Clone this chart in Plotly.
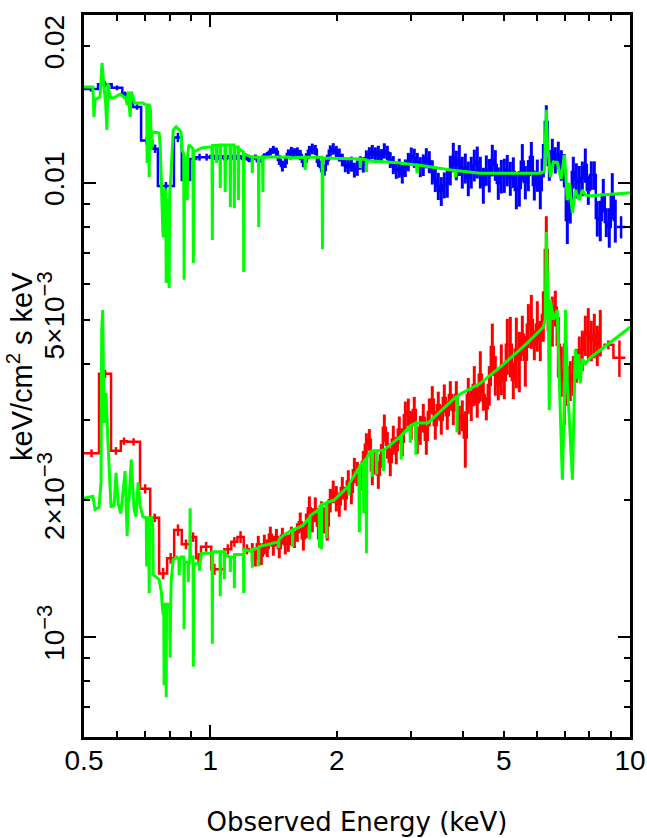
#!/usr/bin/env python
# -*- coding: utf-8 -*-

from plotly.graph_objects import Figure
from plotly.graph_objects import Scatter

# flux values are in units of 1e-3 keV/cm^2 s keV
MILLI = 1e-3

# wide low energy bins
blue_low_edges = [0.5, 0.540, 0.582, 0.617, 0.635, 0.654, 0.684, 0.727, 0.750, 0.819, 0.855, 0.895, 0.925, 0.960, 1.0]
blue_low_flux = [16.1, 16.5, 16.2, 15.7, 15.4, 14.7, 12.4, 11.9, 9.85, 12.6, 10.15, 11.3, 11.4, 11.4]
blue_low_err = [0.2, 0.25, 0.2, 0.2, 0.2, 0.2, 0.25, 0.25, 0.2, 0.3, 0.25, 0.2, 0.2, 0.2]

red_low_edges = [0.5, 0.543, 0.580, 0.612, 0.6335, 0.680, 0.719, 0.755, 0.789, 0.820, 0.855,
                 0.895, 0.925, 0.950, 1.005, 1.040, 1.080, 1.122, 1.160, 1.201, 1.245]
red_low_flux = [2.54, 3.80, 2.57, 2.70, 2.69, 2.12, 1.83, 1.38, 1.49, 1.72,
                1.60, 1.66, 1.49, 1.58, 1.41, 1.41, 1.56, 1.62, 1.66, 1.56]
red_low_err = [0.05, 0.08, 0.05, 0.05, 0.05, 0.05, 0.04, 0.04, 0.04, 0.05,
               0.04, 0.04, 0.04, 0.04, 0.04, 0.04, 0.04, 0.04, 0.05, 0.04]

blue_end_edges = [9.30, 9.75]
blue_end_flux = [8.00]
blue_end_err = [0.45]
red_end_edges = [8.637, 9.13, 9.75]
red_end_flux = [4.40, 4.12]
red_end_err = [0.1, 0.38]

# narrow bins above 1 keV
hi_energy = [
    1.000, 1.017, 1.033, 1.050, 1.068, 1.086, 1.104, 1.122, 1.141, 1.160,
    1.179, 1.199, 1.218, 1.239, 1.259, 1.280, 1.301, 1.323, 1.345, 1.367,
    1.390, 1.413, 1.437, 1.460, 1.485, 1.509, 1.534, 1.560, 1.586, 1.612,
    1.638, 1.666, 1.693, 1.722, 1.750, 1.779, 1.809, 1.839, 1.869, 1.900,
    1.931, 1.963, 1.996, 2.029, 2.063, 2.097, 2.132, 2.168, 2.204, 2.240,
    2.277, 2.315, 2.354, 2.393, 2.432, 2.473, 2.514, 2.556, 2.598, 2.641,
    2.684, 2.729, 2.774, 2.820, 2.867, 2.915, 2.963, 3.012, 3.062, 3.113,
    3.165, 3.217, 3.271, 3.325, 3.380, 3.436, 3.493, 3.551, 3.610, 3.670,
    3.731, 3.793, 3.856, 3.920, 3.985, 4.051, 4.118, 4.186, 4.256, 4.326,
    4.399, 4.472, 4.546, 4.621, 4.698, 4.776, 4.855, 4.936, 5.018, 5.101,
    5.186, 5.272, 5.360, 5.449, 5.539, 5.631, 5.725, 5.820, 5.916, 6.014,
    6.113, 6.215, 6.318, 6.423, 6.530, 6.638, 6.748, 6.860, 6.974, 7.090,
    7.207, 7.327, 7.449, 7.572, 7.698, 7.826, 7.956, 8.088, 8.222, 8.358,
    8.496, 8.637, 8.780, 8.926, 9.074, 9.225,
]

blue_flux = [
    11.41, 11.35, 11.47, 11.35, 11.41, 11.29, 11.41, 11.35, 11.47, 11.35,
    11.41, 11.29, 11.35, 11.24, 11.29, 11.41, 11.18, 11.24, 11.47, 11.53,
    11.71, 11.83, 11.71, 11.24, 10.90, 11.07, 11.59, 11.71, 11.65, 11.71,
    11.53, 11.13, 11.35, 11.77, 11.89, 11.83, 11.13, 10.85, 10.68, 11.24,
    11.77, 11.89, 11.71, 11.53, 11.24, 10.96, 10.85, 11.01, 10.68, 10.79,
    11.07, 10.96, 11.35, 11.59, 11.71, 11.53, 11.65, 11.47, 11.77, 11.65,
    11.24, 10.96, 10.68, 10.79, 10.47, 10.79, 11.13, 11.47, 11.35, 11.13,
    10.85, 10.96, 11.35, 11.13, 10.57, 10.15, 9.85, 9.60, 9.90, 10.00,
    10.68, 11.41, 10.96, 11.24, 10.57, 10.79, 10.25, 10.57, 10.96, 11.13,
    10.57, 9.90, 10.68, 10.41, 11.24, 10.96, 10.00, 10.36, 10.41, 10.68,
    10.25, 10.57, 9.65, 9.75, 11.13, 10.05, 10.41, 11.41, 9.90, 10.41,
    9.65, 11.24, 13.63, 10.96, 11.71, 11.24, 11.53, 10.96, 10.68, 8.29,
    8.94, 10.57, 10.15, 10.05, 10.25, 10.96, 9.65, 10.41, 10.41, 8.37,
    8.29, 9.41, 8.20, 8.00, 9.41, 8.29,
]

blue_err = [
    0.12, 0.11, 0.12, 0.12, 0.12, 0.12, 0.12, 0.11, 0.12, 0.12,
    0.12, 0.13, 0.12, 0.13, 0.12, 0.14, 0.13, 0.15, 0.16, 0.18,
    0.22, 0.24, 0.25, 0.28, 0.30, 0.28, 0.27, 0.30, 0.28, 0.27,
    0.30, 0.30, 0.28, 0.30, 0.32, 0.30, 0.28, 0.30, 0.30, 0.30,
    0.33, 0.35, 0.36, 0.38, 0.36, 0.40, 0.38, 0.42, 0.40, 0.42,
    0.38, 0.42, 0.45, 0.40, 0.42, 0.45, 0.43, 0.40, 0.46, 0.43,
    0.45, 0.50, 0.47, 0.52, 0.50, 0.48, 0.52, 0.50, 0.55, 0.52,
    0.55, 0.60, 0.58, 0.62, 0.65, 0.60, 0.68, 0.70, 0.65, 0.72,
    0.80, 0.85, 0.82, 0.88, 0.85, 0.82, 0.90, 0.85, 0.88, 0.90,
    0.85, 0.90, 0.82, 0.88, 0.90, 0.85, 0.82, 0.88, 0.90, 0.85,
    0.88, 0.82, 0.90, 0.88, 1.05, 0.85, 0.82, 0.90, 0.75, 0.85,
    0.90, 0.95, 1.20, 0.85, 0.80, 0.75, 0.80, 0.85, 0.90, 0.95,
    0.80, 0.85, 0.90, 0.85, 0.90, 0.95, 0.70, 0.75, 0.75, 0.75,
    0.85, 0.80, 0.60, 0.80, 1.10, 0.90,
]

red_flux = [
    1.54, 1.49, 1.60, 1.51, 1.60, 1.57, 1.68, 1.59, 1.66, 1.57,
    1.67, 1.60, 1.61, 1.67, 1.64, 1.70, 1.79, 1.65, 1.76, 1.92,
    1.81, 1.91, 1.76, 1.88, 1.81, 1.76, 2.00, 2.09, 2.02, 1.96,
    2.13, 2.02, 2.20, 2.09, 2.33, 2.29, 2.25, 2.43, 2.65, 2.72,
    2.33, 2.43, 2.28, 2.51, 2.89, 2.65, 2.43, 2.72, 2.58, 2.86,
    2.69, 3.08, 3.13, 2.93, 3.16, 2.72, 2.86, 3.04, 2.72, 3.13,
    3.33, 2.93, 3.24, 3.01, 3.36, 3.08, 3.41, 3.16, 3.41, 3.01,
    3.08, 2.75, 3.41, 3.24, 3.59, 3.29, 3.78, 3.41, 3.19, 3.59,
    4.35, 3.78, 3.59, 3.91, 3.68, 4.40, 4.40, 3.68, 4.29, 4.08,
    4.63, 4.08, 4.87, 4.99, 4.40, 4.87, 4.51, 5.12, 7.12, 4.75,
    4.99, 5.31, 4.40, 3.87, 3.68, 3.59, 3.68, 3.78, 3.97, 4.23,
    4.29, 4.63, 4.70, 4.51, 4.63, 4.40, 4.70,
]

red_err = [
    0.07, 0.06, 0.07, 0.07, 0.08, 0.07, 0.07, 0.08, 0.07, 0.08,
    0.07, 0.08, 0.07, 0.08, 0.07, 0.08, 0.09, 0.10, 0.11, 0.12,
    0.11, 0.12, 0.12, 0.11, 0.12, 0.13, 0.12, 0.12, 0.13, 0.12,
    0.12, 0.12, 0.13, 0.13, 0.15, 0.14, 0.15, 0.14, 0.16, 0.15,
    0.17, 0.15, 0.16, 0.15, 0.20, 0.18, 0.17, 0.20, 0.18, 0.20,
    0.19, 0.22, 0.22, 0.21, 0.22, 0.19, 0.21, 0.22, 0.20, 0.22,
    0.24, 0.21, 0.23, 0.22, 0.24, 0.22, 0.25, 0.23, 0.25, 0.22,
    0.24, 0.39, 0.31, 0.25, 0.36, 0.25, 0.48, 0.26, 0.19, 0.36,
    0.55, 0.38, 0.27, 0.50, 0.34, 0.62, 0.67, 0.34, 0.76, 0.62,
    0.47, 0.52, 0.54, 0.68, 0.33, 0.62, 0.46, 0.65, 1.33, 0.72,
    0.63, 0.48, 0.67, 0.49, 0.75, 0.36, 0.37, 0.38, 0.34, 0.36,
    0.44, 0.47, 0.60, 0.46, 0.52, 0.45, 0.55,
]

# model curves, each drawn over its data set
top_model_energy = [
    0.500, 0.525, 0.528, 0.531, 0.546, 0.552, 0.558, 0.563, 0.567, 0.570,
    0.577, 0.590, 0.610, 0.630, 0.6335, 0.637, 0.644, 0.648, 0.660, 0.690,
    0.703, 0.7055, 0.707, 0.7085, 0.7135, 0.715, 0.7165, 0.720, 0.723, 0.727,
    0.755, 0.760, 0.770, 0.772, 0.775, 0.783, 0.785, 0.787, 0.796, 0.798,
    0.800, 0.805, 0.816, 0.829, 0.843, 0.851, 0.856, 0.864, 0.866, 0.868,
    0.879, 0.881, 0.883, 0.889, 0.909, 0.911, 0.913, 0.954, 1.000, 1.009,
    1.011, 1.013, 1.032, 1.034, 1.036, 1.054, 1.056, 1.058, 1.083, 1.085,
    1.087, 1.114, 1.116, 1.118, 1.139, 1.141, 1.143, 1.165, 1.167, 1.169,
    1.199, 1.201, 1.203, 1.257, 1.259, 1.261, 1.302, 1.304, 1.306, 1.332,
    1.334, 1.336, 1.470, 1.548, 1.551, 1.554, 1.680, 1.683, 1.686, 1.846,
    1.850, 1.854, 2.272, 2.277, 2.282, 2.350, 2.355, 2.360, 2.836, 3.100,
    3.110, 3.120, 3.825, 3.840, 3.855, 4.400, 6.113, 6.250, 6.320, 6.350,
    6.460, 6.570, 6.710, 6.850, 6.980, 7.090, 7.170, 7.290, 7.410, 7.570,
    7.700, 7.830, 8.040, 9.880, 10.00,
]
top_model_flux = [
    16.28, 16.28, 13.98, 15.24, 15.47, 18.38, 16.28, 15.00, 13.09, 16.62,
    15.40, 15.40, 15.70, 15.30, 14.86, 15.90, 13.98, 15.90, 15.00, 15.00,
    14.86, 14.86, 11.07, 14.86, 14.86, 10.31, 14.86, 14.50, 11.83, 12.96,
    12.89, 12.00, 8.00, 7.60, 9.65, 9.65, 6.02, 9.17, 9.17, 5.87,
    9.50, 10.31, 13.09, 13.29, 13.09, 12.96, 11.83, 11.60, 6.12, 11.41,
    11.00, 9.17, 11.50, 12.13, 11.90, 6.66, 11.70, 11.95, 12.00, 12.00,
    7.49, 12.10, 12.10, 11.07, 12.10, 12.13, 9.75, 12.13, 12.13, 9.55,
    12.13, 12.13, 8.85, 12.13, 12.13, 8.80, 12.00, 12.00, 9.17, 11.90,
    11.70, 6.37, 11.60, 11.40, 10.51, 11.41, 11.40, 8.00, 11.35, 11.40,
    9.55, 11.41, 11.41, 11.40, 11.24, 11.35, 11.40, 10.68, 11.40, 11.40,
    7.15, 11.35, 11.29, 10.79, 11.29, 11.25, 10.57, 11.20, 11.07, 10.95,
    10.50, 10.95, 10.65, 10.30, 10.65, 10.51, 10.51, 10.60, 14.49, 12.44,
    10.30, 11.13, 11.10, 10.20, 11.53, 9.17, 10.00, 8.58, 9.65, 9.17,
    9.65, 9.40, 9.37, 9.51, 9.52,
]

bottom_model_energy = [
    0.500, 0.525, 0.531, 0.543, 0.549, 0.551, 0.554, 0.558, 0.564, 0.570,
    0.580, 0.590, 0.596, 0.603, 0.612, 0.6265, 0.6335, 0.637, 0.640, 0.648,
    0.658, 0.665, 0.673, 0.680, 0.691, 0.7035, 0.705, 0.7065, 0.7135, 0.715,
    0.7165, 0.725, 0.729, 0.731, 0.755, 0.765, 0.767, 0.772, 0.7745, 0.776,
    0.778, 0.7835, 0.785, 0.7865, 0.793, 0.800, 0.802, 0.804, 0.807, 0.816,
    0.833, 0.841, 0.843, 0.845, 0.851, 0.8645, 0.866, 0.8675, 0.8845, 0.886,
    0.8875, 0.8935, 0.895, 0.8965, 0.9095, 0.911, 0.9125, 0.940, 0.942, 0.944,
    0.954, 1.0055, 1.0095, 1.011, 1.0125, 1.0545, 1.056, 1.0575, 1.0785, 1.080,
    1.0815, 1.1145, 1.116, 1.1175, 1.1395, 1.141, 1.1425, 1.1995, 1.201, 1.2025,
    1.2575, 1.259, 1.2605, 1.3025, 1.304, 1.3055, 1.453, 1.455, 1.457, 1.500,
    1.568, 1.570, 1.572, 1.660, 1.722, 1.725, 1.728, 1.817, 1.820, 1.823,
    1.837, 1.840, 1.843, 1.889, 1.892, 1.895, 1.970, 2.135, 2.140, 2.145,
    2.260, 2.265, 2.270, 2.315, 2.320, 2.325, 2.350, 2.355, 2.360, 2.405,
    2.425, 2.430, 2.435, 2.485, 2.490, 2.495, 2.580, 2.585, 2.590, 2.845,
    2.850, 2.855, 2.990, 2.996, 3.002, 3.085, 3.090, 3.095, 3.300, 3.731,
    3.862, 3.870, 3.878, 3.942, 4.399, 5.000, 5.690, 6.210, 6.280, 6.320,
    6.350, 6.390, 6.420, 6.460, 6.570, 6.710, 6.820, 6.900, 6.980, 7.020,
    7.090, 7.170, 7.290, 7.410, 7.490, 7.530, 7.610, 7.700, 7.830, 8.040,
    10.00,
]
bottom_model_flux = [
    2.02, 2.04, 1.91, 1.93, 2.19, 4.75, 5.25, 2.96, 3.45, 2.72,
    1.93, 1.95, 2.30, 1.97, 1.87, 2.32, 1.67, 1.97, 2.00, 2.46,
    1.91, 1.84, 2.19, 1.95, 1.84, 1.83, 1.43, 1.83, 1.83, 1.25,
    1.83, 1.83, 1.75, 1.37, 1.34, 1.25, 1.19, 1.12, 1.15, 0.783,
    1.18, 1.18, 0.737, 1.18, 1.18, 1.15, 0.90, 1.15, 1.34, 1.48,
    1.50, 1.48, 1.37, 1.48, 1.50, 1.50, 1.04, 1.46, 1.46, 1.32,
    1.46, 1.46, 1.92, 1.50, 1.50, 0.86, 1.45, 1.45, 1.40, 1.45,
    1.53, 1.53, 1.53, 0.966, 1.54, 1.54, 1.23, 1.54, 1.54, 1.34,
    1.52, 1.50, 1.39, 1.50, 1.50, 1.28, 1.52, 1.52, 1.25, 1.56,
    1.54, 1.42, 1.56, 1.57, 1.43, 1.58, 1.62, 1.57, 1.64, 1.68,
    1.72, 1.58, 1.72, 1.76, 1.83, 1.64, 1.85, 1.91, 1.57, 1.94,
    1.95, 1.56, 1.96, 1.97, 1.65, 1.98, 2.00, 2.15, 2.05, 2.18,
    2.36, 1.70, 2.38, 2.43, 1.87, 2.44, 2.47, 1.53, 2.48, 2.56,
    2.56, 2.25, 2.57, 2.57, 2.28, 2.57, 2.58, 2.32, 2.58, 2.77,
    2.46, 2.78, 2.91, 2.68, 2.92, 2.96, 2.52, 2.96, 2.96, 3.29,
    3.39, 2.82, 3.39, 3.43, 3.62, 3.99, 4.44, 4.81, 5.00, 7.80,
    6.50, 5.53, 3.16, 5.53, 5.00, 5.25, 3.16, 2.22, 3.33, 5.25,
    3.62, 3.01, 2.22, 4.29, 3.70, 4.20, 3.62, 4.10, 4.00, 4.12,
    4.81,
]

x_labels = [0.5, 1, 2, 5, 10]
x_long_ticks = [1, 10]
x_short_ticks = [0.6, 0.7, 0.8, 0.9, 3, 4, 6, 7, 8, 9]
y_labels = [0.02, 0.01, 5e-3, 2e-3, 1e-3]
SUP3 = "<sup><span style=\"font-size:22px\">−3</span></sup>"
y_label_text = ["0.02", "0.01", "5×10" + SUP3, "2×10" + SUP3, "10" + SUP3]
y_long_ticks = [0.01, 1e-3]
y_short_ticks = [7e-4, 8e-4, 9e-4, 3e-3, 4e-3, 6e-3, 7e-3, 8e-3, 9e-3]

RED = "#ff0000"
BLUE = "#0000ff"
GREEN = "#00ff00"
X_RANGE = [-0.30103, 1.0]
Y_RANGE = [-3.2203, -1.630]
FONT = "Liberation Sans"


def scaled(values):
    return [value * MILLI for value in values]


def add_steps(figure, edges, flux, err, color):
    # wide bins: a flat step across each bin and a bar at its centre
    step_x, step_y = [], []
    for lo, hi, value in zip(edges[:-1], edges[1:], scaled(flux)):
        step_x += [lo, hi]
        step_y += [value, value]
    figure.add_trace(Scatter(x=step_x, y=step_y, mode="lines", line=dict(color=color, width=2.5, simplify=False)))
    centres = [(lo * hi) ** 0.5 for lo, hi in zip(edges[:-1], edges[1:])]
    figure.add_trace(
        Scatter(
            x=centres,
            y=scaled(flux),
            mode="markers",
            marker=dict(size=1, color=color),
            error_y=dict(type="data", array=scaled(err), color=color, thickness=2.5, width=0),
        ),
    )


def add_bins(figure, energy, flux, err, color):
    figure.add_trace(
        Scatter(
            x=energy,
            y=scaled(flux),
            mode="lines",
            line=dict(color=color, width=2.5, shape="hvh", simplify=False),
            error_y=dict(type="data", array=scaled(err), color=color, thickness=3, width=0),
        ),
    )


def add_model(figure, energy, flux):
    figure.add_trace(
        Scatter(x=energy, y=scaled(flux), mode="lines", line=dict(color=GREEN, width=3, simplify=False)),
    )


def create_figure():
    figure = Figure()

    add_steps(figure, red_low_edges, red_low_flux, red_low_err, RED)
    add_bins(figure, hi_energy[14:131], red_flux, red_err, RED)
    add_steps(figure, red_end_edges, red_end_flux, red_end_err, RED)

    add_steps(figure, blue_low_edges, blue_low_flux, blue_low_err, BLUE)
    add_bins(figure, hi_energy, blue_flux, blue_err, BLUE)
    add_steps(figure, blue_end_edges, blue_end_flux, blue_end_err, BLUE)

    add_model(figure, top_model_energy, top_model_flux)
    add_model(figure, bottom_model_energy, bottom_model_flux)

    # overlay axes only carry the long ticks
    figure.add_trace(Scatter(x=[None], y=[None], xaxis="x2", yaxis="y2", mode="lines"))

    figure.update_layout(
        width=647,
        height=838,
        margin=dict(t=15, r=17, b=101, l=84),
        paper_bgcolor="white",
        plot_bgcolor="white",
        showlegend=False,
        font=dict(family=FONT, size=28, color="black"),
        annotations=[
            dict(
                text="keV/cm<sup>2</sup> s keV",
                xref="paper",
                yref="paper",
                x=-0.1172,
                y=0.5125,
                xanchor="center",
                yanchor="middle",
                textangle=-90,
                showarrow=False,
                font=dict(family=FONT, size=29),
            ),
        ],
        xaxis=dict(
            type="log",
            automargin=False,
            range=X_RANGE,
            tickmode="array",
            tickvals=x_labels,
            ticktext=[str(v) for v in x_labels],
            ticks="inside",
            ticklen=6,
            tickwidth=2,
            tickcolor="black",
            ticklabelstandoff=-3,
            showline=True,
            linewidth=2.5,
            linecolor="black",
            mirror="ticks",
            showgrid=False,
            zeroline=False,
            minor=dict(tickmode="array", tickvals=x_short_ticks, ticks="inside", ticklen=6, tickwidth=2, tickcolor="black", showgrid=False),
            title=dict(text="Observed Energy (keV)", font=dict(family="DejaVu Sans", size=26), standoff=38),
        ),
        yaxis=dict(
            type="log",
            automargin=False,
            range=Y_RANGE,
            tickmode="array",
            tickvals=y_labels,
            ticktext=y_label_text,
            tickangle=-90,
            ticks="inside",
            ticklen=6,
            tickwidth=2,
            tickcolor="black",
            ticklabelstandoff=6,
            showline=True,
            linewidth=2.5,
            linecolor="black",
            mirror="ticks",
            showgrid=False,
            zeroline=False,
            minor=dict(tickmode="array", tickvals=y_short_ticks, ticks="inside", ticklen=6, tickwidth=2, tickcolor="black", showgrid=False),
        ),
        xaxis2=dict(
            type="log", automargin=False, range=X_RANGE, overlaying="x", anchor="y2", tickmode="array", tickvals=x_long_ticks,
            ticks="inside", ticklen=12, tickwidth=2, tickcolor="black", showticklabels=False, mirror="ticks",
            showgrid=False, zeroline=False,
        ),
        yaxis2=dict(
            type="log", automargin=False, range=Y_RANGE, overlaying="y", anchor="x2", tickmode="array", tickvals=y_long_ticks,
            ticks="inside", ticklen=12, tickwidth=2, tickcolor="black", showticklabels=False, mirror="ticks",
            showgrid=False, zeroline=False,
        ),
    )
    return figure


fig = create_figure()
# drop the browser's default page margin so the figure fills the window
fig.write_html("out.html", config={"displayModeBar": False}, post_script="document.body.style.margin = '0'")
